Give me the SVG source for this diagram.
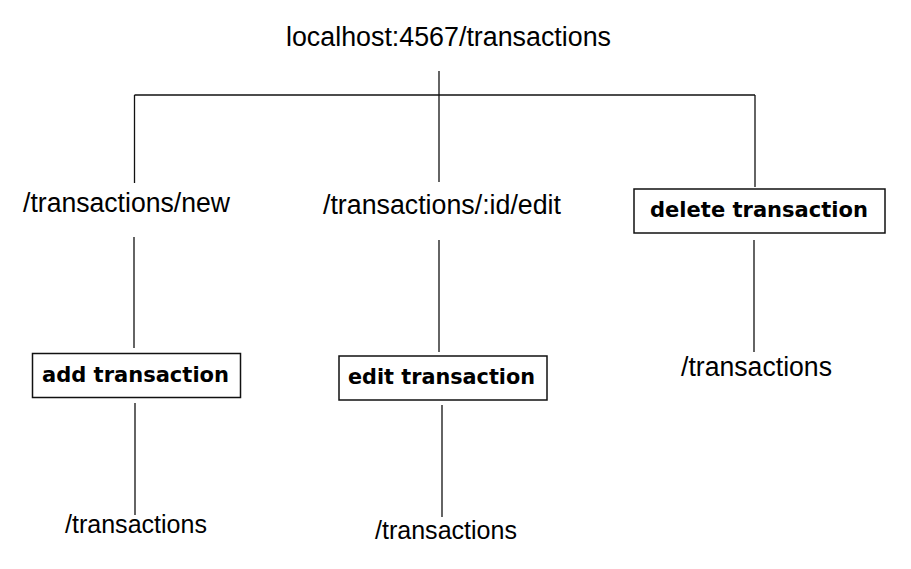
<svg xmlns="http://www.w3.org/2000/svg" width="911" height="569" viewBox="0 0 911 569">
<style>
.bg{fill:#ffffff}
.lbl{font-family:"Liberation Sans",Arial,Helvetica,sans-serif;font-size:27px;fill:#000}
.sm{font-size:26px}
.box{fill:#fff;stroke:#111;stroke-width:1.5}
.btxt{font-family:"DejaVu Sans","Liberation Sans",Arial,sans-serif;font-weight:bold;font-size:21px;fill:#000}
.con line{stroke:#111;stroke-width:1.3;fill:none}
</style>
<rect class="bg" x="0" y="0" width="911" height="569"/>
<g id="connectors" class="con">
<line x1="439" y1="71" x2="439" y2="182"/>
<line x1="134.5" y1="95" x2="755" y2="95"/>
<line x1="134.5" y1="95" x2="134.5" y2="183"/>
<line x1="755" y1="95" x2="755" y2="187"/>
<line x1="134" y1="237" x2="134" y2="348"/>
<line x1="439" y1="240" x2="439" y2="352"/>
<line x1="754" y1="240" x2="754" y2="352"/>
<line x1="135" y1="403" x2="135" y2="515"/>
<line x1="442" y1="405" x2="442" y2="517"/>
</g>
<g id="root">
<text class="lbl" x="286" y="46" textLength="325" lengthAdjust="spacingAndGlyphs">localhost:4567/transactions</text>
</g>
<g id="new">
<text class="lbl" x="23" y="212" textLength="207" lengthAdjust="spacingAndGlyphs">/transactions/new</text>
</g>
<g id="edit">
<text class="lbl" x="323" y="214" textLength="238" lengthAdjust="spacingAndGlyphs">/transactions/:id/edit</text>
</g>
<g id="delete">
<rect class="box" x="634" y="189" width="251" height="44"/>
<text class="btxt" x="650" y="217" textLength="218" lengthAdjust="spacingAndGlyphs">delete transaction</text>
</g>
<g id="add">
<rect class="box" x="32.5" y="353.5" width="208" height="44"/>
<text class="btxt" x="42" y="382" textLength="187" lengthAdjust="spacingAndGlyphs">add transaction</text>
</g>
<g id="editTx">
<rect class="box" x="339" y="356" width="208" height="44"/>
<text class="btxt" x="348" y="384" textLength="187" lengthAdjust="spacingAndGlyphs">edit transaction</text>
</g>
<g id="deleteResult">
<text class="lbl" x="681" y="376" textLength="151" lengthAdjust="spacingAndGlyphs">/transactions</text>
</g>
<g id="addResult">
<text class="lbl sm" x="65" y="533" textLength="142" lengthAdjust="spacingAndGlyphs">/transactions</text>
</g>
<g id="editResult">
<text class="lbl sm" x="375" y="539" textLength="142" lengthAdjust="spacingAndGlyphs">/transactions</text>
</g>
</svg>
